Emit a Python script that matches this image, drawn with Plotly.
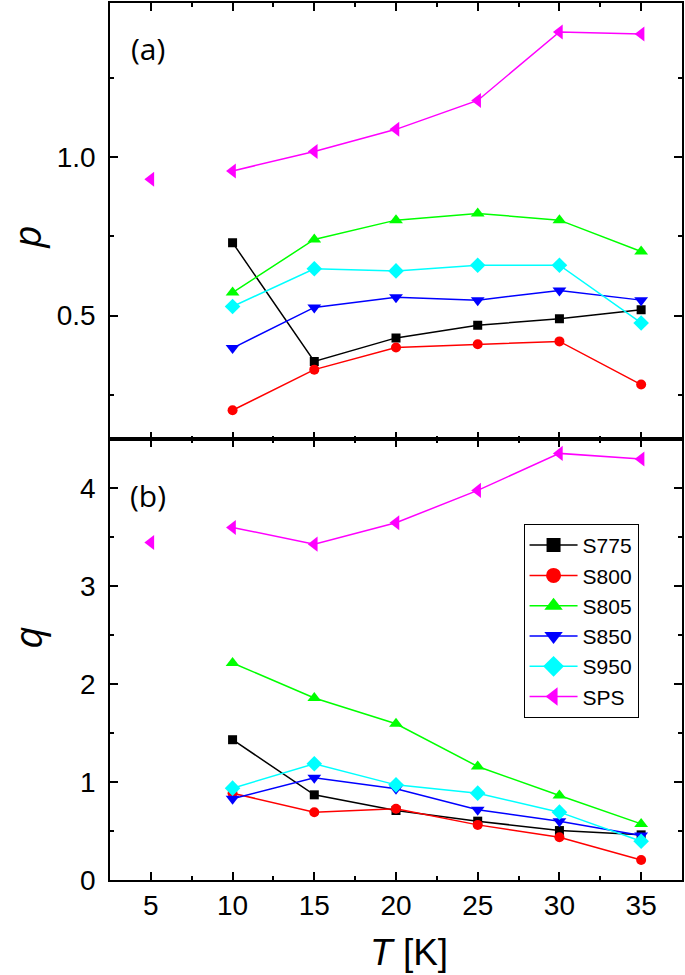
import plotly.graph_objects as go
from plotly.subplots import make_subplots

T = [10, 15, 20, 25, 30, 35]
T_sps = [5, 10, 15, 20, 25, 30, 35]

p_S775 = [0.730, 0.356, 0.430, 0.470, 0.490, 0.519]
p_S800 = [0.202, 0.330, 0.400, 0.410, 0.419, 0.283]
p_S805 = [0.573, 0.740, 0.801, 0.822, 0.801, 0.702]
p_S850 = [0.398, 0.526, 0.558, 0.549, 0.579, 0.549]
p_S950 = [0.529, 0.648, 0.641, 0.659, 0.659, 0.477]
p_SPS = [0.930, 0.956, 1.017, 1.087, 1.178, 1.394, 1.387]

q_S775 = [1.433, 0.870, 0.710, 0.601, 0.505, 0.461]
q_S800 = [0.887, 0.693, 0.727, 0.563, 0.437, 0.205]
q_S805 = [2.217, 1.859, 1.596, 1.160, 0.863, 0.573]
q_S850 = [0.829, 1.044, 0.932, 0.717, 0.601, 0.454]
q_S950 = [0.938, 1.187, 0.972, 0.887, 0.693, 0.396]
q_SPS = [3.448, 3.601, 3.431, 3.649, 3.980, 4.358, 4.300]

names = ["S775", "S800", "S805", "S850", "S950", "SPS"]
colors = ["#000000", "#FF0000", "#00FF00", "#0000FF", "#00FFFF", "#FF00FF"]
symbols = ["square", "circle", "triangle-up", "triangle-down", "diamond", "triangle-left"]
sizes = [9, 10, 12, 12, 12, 13]
legend_sizes = [14, 15, 17, 17, 17, 18]

p_series = [p_S775, p_S800, p_S805, p_S850, p_S950, p_SPS]
q_series = [q_S775, q_S800, q_S805, q_S850, q_S950, q_SPS]

fig = make_subplots(rows=2, cols=1, shared_xaxes=True, vertical_spacing=0)

for i, name in enumerate(names):
    xs = T_sps if name == "SPS" else T
    for row, ys in ((1, p_series[i]), (2, q_series[i])):
        if name == "SPS":
            # first point (5 K) is not connected
            fig.add_trace(go.Scatter(x=xs[:1], y=ys[:1], mode="markers",
                                     marker=dict(symbol=symbols[i], size=sizes[i], color=colors[i]),
                                     showlegend=False), row=row, col=1)
            fig.add_trace(go.Scatter(x=xs[1:], y=ys[1:], mode="lines+markers",
                                     line=dict(color=colors[i], width=1.5),
                                     marker=dict(symbol=symbols[i], size=sizes[i], color=colors[i]),
                                     showlegend=False), row=row, col=1)
        else:
            fig.add_trace(go.Scatter(x=xs, y=ys, mode="lines+markers",
                                     line=dict(color=colors[i], width=1.5),
                                     marker=dict(symbol=symbols[i], size=sizes[i], color=colors[i]),
                                     showlegend=False), row=row, col=1)
    # legend entry
    fig.add_trace(go.Scatter(x=[None], y=[None], mode="lines+markers", name=name,
                             line=dict(color=colors[i], width=1.5),
                             marker=dict(symbol=symbols[i], size=legend_sizes[i], color=colors[i]),
                             showlegend=True), row=2, col=1)

tickfont = dict(family="Liberation Sans", size=28, color="black")
axis_common = dict(showline=True, linecolor="black", linewidth=1.5, mirror="ticks",
                   ticks="inside", ticklen=8, tickwidth=1.5, tickcolor="black",
                   showgrid=False, zeroline=False, tickfont=tickfont)

fig.update_xaxes(range=[2.5, 37.5], tick0=0, dtick=5,
                 minor=dict(dtick=2.5, ticks="inside", ticklen=4, tickwidth=1.5, tickcolor="black"),
                 **axis_common)
fig.update_xaxes(showticklabels=False, row=1, col=1)

fig.update_yaxes(range=[0.11, 1.485], tick0=0, dtick=0.5, tickformat=".1f", ticklabelstandoff=7,
                 minor=dict(dtick=0.25, ticks="inside", ticklen=4, tickwidth=1.5, tickcolor="black"),
                 row=1, col=1, **axis_common)
fig.update_yaxes(range=[0, 4.5], tick0=0, dtick=1, ticklabelstandoff=7,
                 minor=dict(dtick=0.5, ticks="inside", ticklen=4, tickwidth=1.5, tickcolor="black"),
                 row=2, col=1, **axis_common)

title_font = dict(family="Open Sans", size=39, color="black")
fig.update_layout(
    width=685, height=975,
    margin=dict(l=110, r=1, t=1, b=95),
    plot_bgcolor="white", paper_bgcolor="white",
    yaxis=dict(domain=[0.5023, 1]),
    yaxis2=dict(domain=[0, 0.5023]),
    legend=dict(x=0.723, y=0.406, xanchor="left", yanchor="top",
                bordercolor="black", borderwidth=1, bgcolor="white",
                font=dict(family="Liberation Sans", size=21, color="black"),
                tracegroupgap=0, itemwidth=48),
    annotations=[
        dict(text="(a)", x=0.066, y=0.948, xref="paper", yref="paper", showarrow=False,
             xanchor="center", yanchor="middle",
             font=dict(family="Open Sans", size=30, color="black")),
        dict(text="(b)", x=0.066, y=0.438, xref="paper", yref="paper", showarrow=False,
             xanchor="center", yanchor="middle",
             font=dict(family="Open Sans", size=30, color="black")),
        dict(text="<i>p</i>", x=(25 - 110) / 574, y=0.7338, xref="paper", yref="paper", showarrow=False,
             xanchor="center", yanchor="middle", textangle=-90, font=title_font),
        dict(text="<i>q</i>", x=(26 - 110) / 574, y=0.2765, xref="paper", yref="paper", showarrow=False,
             xanchor="center", yanchor="middle", textangle=-90, font=title_font),
        dict(text="<i>T</i> [K]", x=0.5226, y=-0.083, xref="paper", yref="paper", showarrow=False,
             xanchor="center", yanchor="middle",
             font=dict(family="Liberation Sans", size=37, color="black")),
    ],
    showlegend=True,
)

fig.write_html("out.html", config={"displayModeBar": False},
               post_script="document.body.style.margin='0';document.body.style.padding='0';")
